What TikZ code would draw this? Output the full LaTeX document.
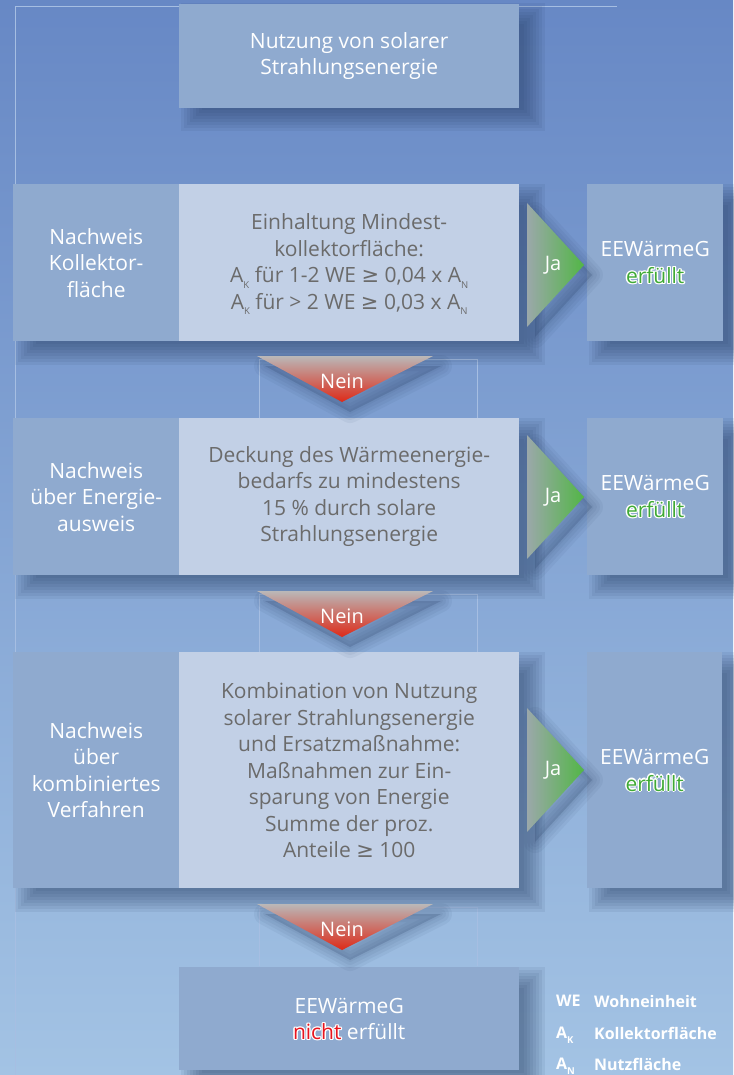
\documentclass[tikz,border=0pt]{standalone}
\usepackage{fontspec}
\setmainfont{Open Sans}
\newfontfamily\symf{DejaVu Sans}
\definecolor{bgtop}{HTML}{6788C5}
\definecolor{bgmid}{HTML}{76A0D4}
\definecolor{bgbot}{HTML}{A3C3E4}
\definecolor{boxdark}{HTML}{8FAACF}
\definecolor{boxlight}{HTML}{C2D0E6}
\definecolor{txtgray}{HTML}{6B6B6B}
\definecolor{lineblue}{HTML}{A6BEE2}
\definecolor{jagreen}{HTML}{52B646}
\definecolor{jamid}{HTML}{A6D2A0}
\definecolor{jagray}{HTML}{9BA8AA}
\definecolor{neinred}{HTML}{DE2A18}
\definecolor{neinmid}{HTML}{EBA08C}
\definecolor{neingray}{HTML}{BAB8B8}
\definecolor{okgreen}{HTML}{3FAA35}
\definecolor{nored}{HTML}{E8141E}
\definecolor{shadowc}{HTML}{22395F}
\newcommand\sub[1]{\smash{\raisebox{-0.5ex}{\fontsize{9.5}{9.5}\selectfont #1}}}
\newcommand\gte{{\symf ≥}}
\newcommand\boxshadow[4]{%
  \foreach \k in {0,...,7}{\fill[shadowc, opacity=0.08] ({#1+2+3*\k},{#2+3*\k}) rectangle ({#3+26-3*\k},{#4+24-3*\k});}}
\newcommand\trishadow[1]{%
  \foreach \w in {22,16,10,4}{\draw[shadowc, opacity=0.06, line width=\w pt, line join=round] #1;}
  \fill[shadowc, opacity=0.2] #1;}
\tikzset{
  boxfont/.style={font=\fontsize{21}{26.5}\selectfont},
  darkbox/.style={fill=boxdark, text=white, inner sep=0pt, align=center, anchor=north west, boxfont},
  lightbox/.style={fill=boxlight, text=txtgray, inner sep=0pt, align=center, anchor=north west, boxfont},
  overbox/.style={inner sep=0pt, align=center, anchor=north west, boxfont},
  lbl/.style={text=white, font=\fontsize{20}{22}\selectfont, inner sep=0pt},
  legendtxt/.style={text=white, font=\bfseries\fontsize{16}{18}\selectfont, anchor=west, inner sep=0pt},
  thinline/.style={draw=lineblue, line width=0.8pt},
}
% halo text: x, y, width, height, colour, content, name
\newcommand\halotext[7]{%
  \foreach \dx/\dy in {-1.3/0,1.3/0,0/-1.3,0/1.3,0.95/0.95,-0.95/0.95,0.95/-0.95,-0.95/-0.95}{
    \node[overbox, minimum width=#3, minimum height=#4, text=white] at ({#1+\dx},{#2+\dy}) {#6};}
  \node[overbox, minimum width=#3, minimum height=#4, text=#5] (#7) at (#1,#2) {#6};}
\begin{document}
\begin{tikzpicture}[x=1pt, y=-1pt]
\useasboundingbox (0,0) rectangle (733,1075);
\shade[top color=bgtop, middle color=bgmid, bottom color=bgbot] (0,0) rectangle (733,1075);
% thin frame lines
\draw[thinline] (15,1075) -- (15,6) -- (617,6);
\draw[thinline, line width=0.6pt] (259,418) -- (259,359) -- (477,359) -- (477,418);
\draw[thinline, line width=0.6pt] (259,652) -- (259,594) -- (477,594) -- (477,652);
\draw[thinline, line width=0.6pt] (259,966) -- (259,907) -- (477,907) -- (477,966);
% shadows
\boxshadow{179}{3}{519}{107}
\boxshadow{13}{184}{519}{341}
\boxshadow{587}{184}{723}{341}
\boxshadow{13}{418}{519}{575}
\boxshadow{587}{418}{723}{575}
\boxshadow{13}{652}{519}{888}
\boxshadow{587}{652}{722}{888}
\boxshadow{179}{967}{519}{1070}
% boxes
\node[darkbox, minimum width=340pt, minimum height=104pt] (top) at (179,4) {Nutzung von solarer\\Strahlungsenergie};
\node[darkbox, minimum width=166pt, minimum height=157pt] (l1) at (13,184) {Nachweis\\Kollektor-\\fläche};
\node[lightbox, minimum width=340pt, minimum height=157pt] (m1) at (179,184) {Einhaltung Mindest-\\kollektorfläche:\\A\sub{K} für 1-2 WE \gte{} 0,04 x A\sub{N}\\A\sub{K} für > 2 WE \gte{} 0,03 x A\sub{N}};
\node[darkbox, minimum width=136pt, minimum height=157pt] (r1) at (587,184) {EEWärmeG\\\phantom{erfüllt}};
\halotext{587}{184}{136pt}{157pt}{okgreen}{\phantom{EEWärmeG}\\erfüllt}{ok1}
\node[darkbox, minimum width=166pt, minimum height=157pt] (l2) at (13,418) {Nachweis\\über Energie-\\ausweis};
\node[lightbox, minimum width=340pt, minimum height=157pt] (m2) at (179,418) {Deckung des Wärmeenergie-\\bedarfs zu mindestens\\15 \% durch solare\\Strahlungsenergie};
\node[darkbox, minimum width=136pt, minimum height=157pt] (r2) at (587,418) {EEWärmeG\\\phantom{erfüllt}};
\halotext{587}{418}{136pt}{157pt}{okgreen}{\phantom{EEWärmeG}\\erfüllt}{ok2}
\node[darkbox, minimum width=166pt, minimum height=236pt] (l3) at (13,652) {Nachweis\\über\\kombiniertes\\Verfahren};
\node[lightbox, minimum width=340pt, minimum height=236pt] (m3) at (179,652) {Kombination von Nutzung\\solarer Strahlungsenergie\\und Ersatzmaßnahme:\\Maßnahmen zur Ein-\\sparung von Energie\\Summe der proz.\\Anteile \gte{} 100};
\node[darkbox, minimum width=135pt, minimum height=236pt] (r3) at (587,652) {EEWärmeG\\\phantom{erfüllt}};
\halotext{587}{652}{135pt}{236pt}{okgreen}{\phantom{EEWärmeG}\\erfüllt}{ok3}
\node[darkbox, minimum width=340pt, minimum height=103pt] (bot) at (179,967) {EEWärmeG\\\phantom{nicht} erfüllt};
\halotext{179}{967}{340pt}{103pt}{nored}{\phantom{EEWärmeG}\\nicht\phantom{ erfüllt}}{nicht}
% Ja arrows
\foreach \c/\n in {265/1, 497/2, 770/3}{
  \trishadow{({527+8},{\c-62+10}) -- ({584+8},{\c+10}) -- ({527+8},{\c+62+10}) -- cycle}
  \shade[left color=jagray, middle color=jamid, right color=jagreen] (527,{\c-62}) -- (584,\c) -- (527,{\c+62}) -- cycle;
  \node[lbl] (ja\n) at (553,\c) {Ja};
}
% Nein arrows
\foreach \t/\n in {356/1, 591/2, 904/3}{
  \trishadow{(265,{\t+10}) -- (441,{\t+10}) -- (350,{\t+56}) -- cycle}
  \shade[top color=neingray, middle color=neinmid, bottom color=neinred] (257,\t) -- (433,\t) -- (342,{\t+46}) -- cycle;
  \node[lbl] (nein\n) at (342,{\t+25}) {Nein};
}
% legend
\node[legendtxt] (we) at (556,1001) {WE};
\node[legendtxt] (wedef) at (594,1001) {Wohneinheit};
\node[legendtxt] (ak) at (556,1033) {A\sub{K}};
\node[legendtxt] (akdef) at (594,1033) {Kollektorfläche};
\node[legendtxt] (an) at (556,1064) {A\sub{N}};
\node[legendtxt] (andef) at (594,1064) {Nutzfläche};
\end{tikzpicture}
\end{document}
